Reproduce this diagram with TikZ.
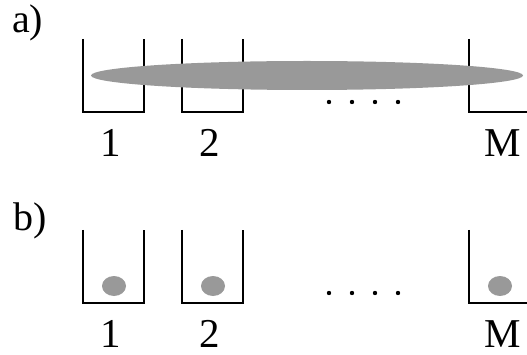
\documentclass[tikz,border=0pt]{standalone}
\usepackage{fontspec}
\setmainfont{Liberation Serif}
\begin{document}
\begin{tikzpicture}[x=1pt,y=-1pt,
  wall/.style={draw=black,line width=1.8pt},
  blob/.style={fill=blobgray,draw=none},
  lbl/.style={font=\fontsize{41}{41}\selectfont,inner sep=0pt,anchor=base},
  tag/.style={font=\fontsize{40}{40}\selectfont,inner sep=0pt,anchor=base west},
  dot/.style={circle,fill=black,inner sep=0pt,minimum size=4.4pt}]
\definecolor{blobgray}{RGB}{153,153,153}
\useasboundingbox (0,0) rectangle (527,355);
% ---------- a)
\node[tag] (ta) at (12,33) {a)};
\draw[wall] (83,39) |- (144,112) -- (144,39);
\draw[wall] (182,39) |- (243,112) -- (243,39);
\draw[wall] (469,39) |- (530,112);
\fill[blob] (307,75.5) ellipse [x radius=216, y radius=14.5];
\node[dot] (a1) at (329,102) {};
\node[dot] (a2) at (352,102) {};
\node[dot] (a3) at (375,102) {};
\node[dot] (a4) at (398,102) {};
\node[lbl] (la1) at (111,157) {1};
\node[lbl] (la2) at (210,157) {2};
\node[lbl] (laM) at (503,157) {M};
% ---------- b)
\node[tag] (tb) at (13,231) {b)};
\draw[wall] (83,230) |- (144,303) -- (144,230);
\draw[wall] (182,230) |- (243,303) -- (243,230);
\draw[wall] (469,230) |- (530,303);
\fill[blob] (114,286) ellipse [x radius=12, y radius=10];
\fill[blob] (213,286) ellipse [x radius=12, y radius=10];
\fill[blob] (500,286) ellipse [x radius=12, y radius=10];
\node[dot] (b1) at (329,293) {};
\node[dot] (b2) at (352,293) {};
\node[dot] (b3) at (375,293) {};
\node[dot] (b4) at (398,293) {};
\node[lbl] (lb1) at (111,347) {1};
\node[lbl] (lb2) at (210,347) {2};
\node[lbl] (lbM) at (503,347) {M};
\end{tikzpicture}
\end{document}
